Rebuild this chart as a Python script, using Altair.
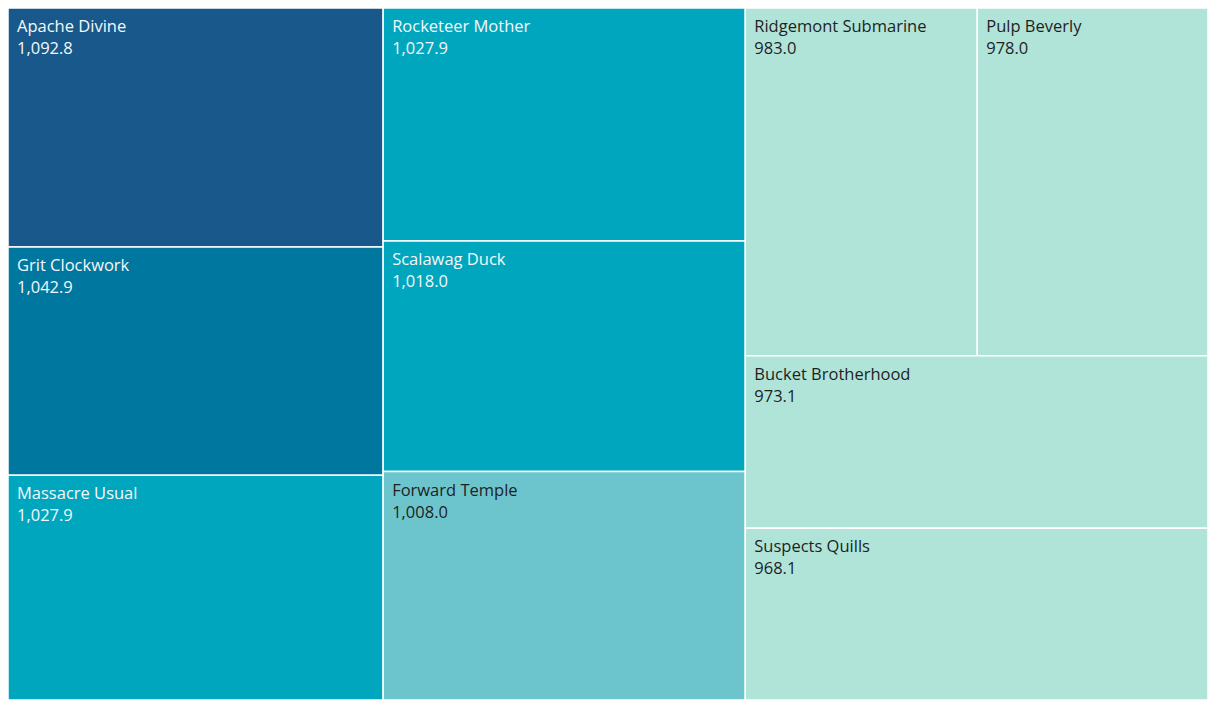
"""Treemap of totals per title, laid out in Python and drawn with Altair rects."""
import pandas as pd
import altair as alt

names = ["Apache Divine", "Grit Clockwork", "Massacre Usual",
         "Rocketeer Mother", "Scalawag Duck", "Forward Temple",
         "Ridgemont Submarine", "Pulp Beverly", "Bucket Brotherhood", "Suspects Quills"]
values = [1092.8, 1042.9, 1027.9,
          1027.9, 1018.0, 1008.0,
          983.0, 978.0, 973.1, 968.1]

# block structure: columns left to right, each a top-down stack; a list inside a
# stack is a row split side by side
columns = [
    ["Apache Divine", "Grit Clockwork", "Massacre Usual"],
    ["Rocketeer Mother", "Scalawag Duck", "Forward Temple"],
    [["Ridgemont Submarine", "Pulp Beverly"], "Bucket Brotherhood", "Suspects Quills"],
]

# stepped colour bins, dark = largest
_BINS = [995, 1015, 1035, 1065]
_COLORS = ["#b0e4d8", "#6cc5cc", "#00a6bd", "#00779f", "#18588a"]

W, H = 1200, 692

val = dict(zip(names, values))


def _weight(item):
    return sum(val[n] for n in item) if isinstance(item, list) else val[item]


def layout():
    rows = []
    total = sum(values)
    x = 0.0
    for col in columns:
        csum = sum(_weight(it) for it in col)
        cw = csum / total
        y = 0.0
        for it in col:
            h = _weight(it) / csum
            if isinstance(it, list):
                xx = x
                for n in it:
                    w = cw * val[n] / _weight(it)
                    rows.append((n, xx, xx + w, y, y + h))
                    xx += w
            else:
                rows.append((it, x, x + cw, y, y + h))
            y += h
        x += cw
    df = pd.DataFrame(rows, columns=["name", "x0", "x1", "y0", "y1"])
    df["value"] = df["name"].map(val)
    return df


df = layout()

xs = alt.Scale(domain=[0, 1], nice=False, zero=False)
ys = alt.Scale(domain=[0, 1], nice=False, zero=False, reverse=True)

base = alt.Chart(df)

cells = base.mark_rect(stroke="white", strokeWidth=1.5).encode(
    x=alt.X("x0:Q", scale=xs, axis=None),
    x2="x1:Q",
    y=alt.Y("y0:Q", scale=ys, axis=None),
    y2="y1:Q",
    color=alt.Color("value:Q", legend=None,
                    scale=alt.Scale(type="threshold", domain=_BINS, range=_COLORS)),
)

txt_color = alt.condition("datum.value > 1015", alt.value("#f4f8fb"), alt.value("#1f1f1f"))

label = base.mark_text(align="left", baseline="top", dx=9, dy=11,
                       font="Open Sans", fontSize=16.5).encode(
    x=alt.X("x0:Q", scale=xs), y=alt.Y("y0:Q", scale=ys),
    text="name:N", color=txt_color,
)
amount = base.mark_text(align="left", baseline="top", dx=9, dy=33,
                        font="Open Sans", fontSize=16.5).encode(
    x=alt.X("x0:Q", scale=xs), y=alt.Y("y0:Q", scale=ys),
    text=alt.Text("value:Q", format=",.1f"), color=txt_color,
)

chart = (cells + label + amount).properties(
    width=W, height=H, padding=0, autosize="none",
).configure_view(stroke=None)

chart.save("out.html", embed_options={"renderer": "svg", "actions": False})
